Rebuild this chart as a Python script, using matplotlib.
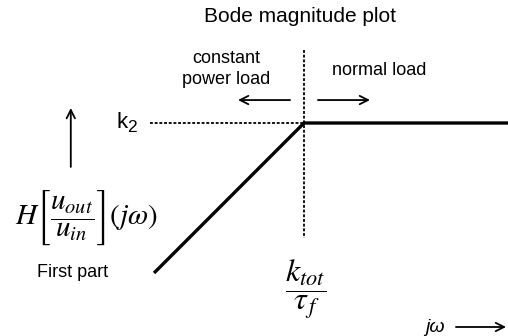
import matplotlib
matplotlib.use('Agg')
import matplotlib.pyplot as plt

plt.rcParams['font.family'] = ['Liberation Sans', 'DejaVu Sans']
plt.rcParams['mathtext.fontset'] = 'stix'

# Asymptotic Bode magnitude (schematic units: decades of frequency vs decades of gain)
log_freq = [-1.0, 0.0, 1.36]
magnitude = [-1.0, 0.0, 0.0]
corner_freq = 0.0   # k_tot / tau_f
k2_level = 0.0

title = 'Bode magnitude plot'
left_label = 'constant\npower load'
right_label = 'normal load'


def draw_arrow(ax, start, end):
    ax.annotate(
        '',
        xy=end,
        xytext=start,
        arrowprops=dict(arrowstyle='->', lw=1.3, color='black',
                        shrinkA=0, shrinkB=0, mutation_scale=15),
    )


fig = plt.figure(figsize=(5.08, 3.36), dpi=100)
ax = fig.add_axes([0, 0, 1, 1])
ax.set_xlim(-2.027, 1.36)
ax.set_ylim(-1.42, 0.82)
ax.axis('off')

# Bode asymptotes
ax.plot(log_freq, magnitude, color='black', lw=2.4, solid_capstyle='butt')

# Guide lines to the corner
dash = (0, (1.6, 1.0))
ax.plot([corner_freq, corner_freq], [0.487, -0.767], color='black', lw=1.3,
        linestyle=dash)
ax.plot([-1.027, corner_freq], [k2_level, k2_level], color='black', lw=1.3,
        linestyle=dash)

# Texts
ax.text(-0.03, 0.71, title, ha='center', va='center', fontsize=15)
ax.text(-0.52, 0.36, left_label, ha='center', va='center', fontsize=13,
        linespacing=1.25)
ax.text(0.5, 0.353, right_label, ha='center', va='center', fontsize=13)

ax.text(-1.215, k2_level, 'k', ha='center', va='center', fontsize=16)
ax.annotate('2', xy=(-1.215, k2_level), xytext=(4.0, -3.5),
            textcoords='offset points', ha='left', va='center', fontsize=12.5)

ax.text(-1.453, -0.63,
        r'$H\left[\dfrac{\overset{\ }{u_{out}}}{\underset{\ }{u_{in}}}\right](j\omega)$',
        ha='center', va='center', fontsize=21)
ax.text(-1.54, -0.995, 'First part', ha='center', va='center', fontsize=13)

ax.text(0.013, -1.11, r'$\dfrac{k_{tot}}{\tau_{\,f}}$',
        ha='center', va='center', fontsize=23)

ax.text(0.873, -1.36, 'jω', ha='center', va='center', fontsize=14,
        style='italic')

# Direction arrows
draw_arrow(ax, (-1.555, -0.293), (-1.555, 0.1))
draw_arrow(ax, (-0.093, 0.153), (-0.44, 0.153))
draw_arrow(ax, (0.093, 0.153), (0.44, 0.153))
draw_arrow(ax, (1.013, -1.36), (1.347, -1.36))

fig.savefig('out.png', dpi=100)
